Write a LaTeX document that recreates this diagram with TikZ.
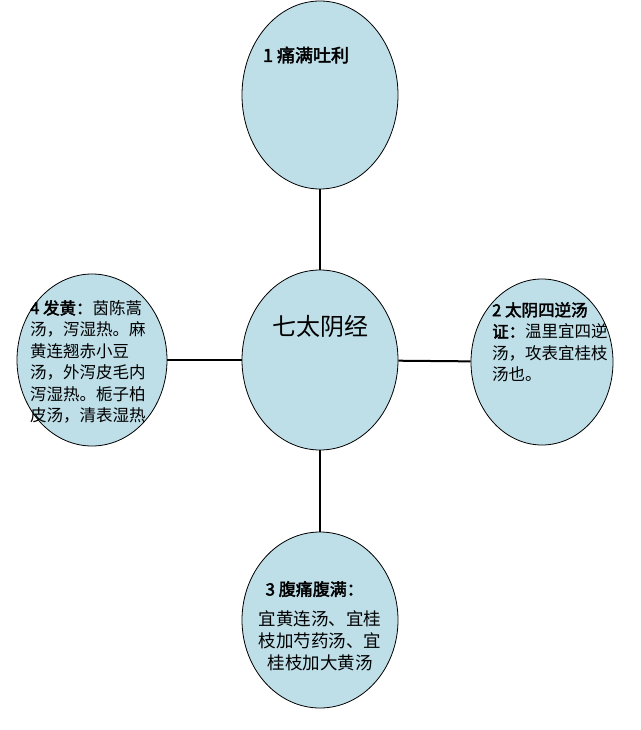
\documentclass[tikz,border=0pt]{standalone}
\usepackage{fontspec}
\newfontfamily\cjk[AutoFakeBold=2.5]{Noto Sans CJK SC}
\definecolor{fillb}{RGB}{190,222,232}
\tikzset{
  oval/.style={ellipse, draw=black, line width=0.8pt, fill=fillb, inner sep=0pt},
  conn/.style={line width=2pt},
  txt/.style={align=left, font=\cjk\fontsize{16.5}{21.5}\selectfont, inner sep=0pt},
}
\usetikzlibrary{shapes.geometric}
\begin{document}
\begin{tikzpicture}[x=1pt,y=-1pt]
\useasboundingbox (0,0) rectangle (640,730);
\node[oval, minimum width=156, minimum height=188] (top) at (320,95) {};
\node[oval, minimum width=156, minimum height=180] (c) at (320,360) {};
\node[oval, minimum width=150, minimum height=172] (l) at (92,360) {};
\node[oval, minimum width=142, minimum height=166] (r) at (542,362) {};
\node[oval, minimum width=156, minimum height=176] (b) at (320,620) {};
\draw[conn] (top) -- (c);
\draw[conn] (c) -- (l);
\draw[conn] (c) -- (r);
\draw[conn] (c) -- (b);
\node[font=\cjk\bfseries\fontsize{18}{20}\selectfont] (tt) at (306,55) {1 痛满吐利};
\node[font=\cjk\fontsize{24}{26}\selectfont] (ct) at (320,326) {七太阴经};
\node[txt, anchor=north west] (lt) at (30,300) {{\bfseries 4 发黄：}茵陈蒿\\汤，泻湿热。麻\\黄连翘赤小豆\\汤，外泻皮毛内\\泻湿热。栀子柏\\皮汤，清表湿热};
\node[txt, anchor=north west] (rt) at (492,302) {{\bfseries 2\ 太阴四逆汤}\\{\bfseries 证：}温里宜四逆\\汤，攻表宜桂枝\\汤也。};
\node[font=\cjk\bfseries\fontsize{17}{20}\selectfont, anchor=west] (bt) at (262,589) {3 腹痛腹满：};
\node[align=center, font=\cjk\fontsize{17.5}{22}\selectfont] (bb) at (320,641) {宜黄连汤、宜桂\\枝加芍药汤、宜\\桂枝加大黄汤};
\end{tikzpicture}
\end{document}
